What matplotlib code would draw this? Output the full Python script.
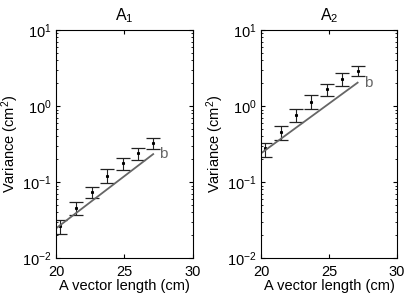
import matplotlib
matplotlib.use("Agg")
import matplotlib.pyplot as plt
import numpy as np

plt.rcParams['font.family'] = ['Liberation Sans', 'DejaVu Sans']
plt.rcParams['mathtext.fontset'] = 'custom'
plt.rcParams['mathtext.rm'] = 'Liberation Sans'
plt.rcParams['mathtext.it'] = 'Liberation Sans:italic'
plt.rcParams['mathtext.bf'] = 'Liberation Sans:bold'

x_vals = [20.3, 21.46, 22.6, 23.7, 24.87, 25.96, 27.1]

a1_mean = [0.0264, 0.045, 0.0745, 0.121, 0.176, 0.239, 0.323]
a1_upper = [0.0316, 0.055, 0.0867, 0.148, 0.205, 0.283, 0.376]
a1_lower = [0.0207, 0.0368, 0.061, 0.096, 0.144, 0.195, 0.272]
a1_fit_x = [20.0, 27.1]
a1_fit_y = [0.0246, 0.233]

a2_mean = [0.277, 0.459, 0.762, 1.14, 1.66, 2.26, 2.91]
a2_upper = [0.329, 0.551, 0.906, 1.40, 1.93, 2.69, 3.36]
a2_lower = [0.211, 0.357, 0.621, 0.906, 1.36, 1.83, 2.48]
a2_fit_x = [20.0, 27.1]
a2_fit_y = [0.239, 2.03]

titles = ['A$_1$', 'A$_2$']
xticks = [20, 25, 30]

fig = plt.figure(figsize=(4.06, 2.97), dpi=100)
positions = [[0.138, 0.131, 0.337, 0.768], [0.643, 0.131, 0.335, 0.768]]
datasets = [(a1_mean, a1_upper, a1_lower, a1_fit_x, a1_fit_y),
            (a2_mean, a2_upper, a2_lower, a2_fit_x, a2_fit_y)]

for pos, title, (m, up, lo, fx, fy) in zip(positions, titles, datasets):
    ax = fig.add_axes(pos)
    m = np.array(m); up = np.array(up); lo = np.array(lo)
    _, caps, _ = ax.errorbar(x_vals, m, yerr=[m - lo, up - m], fmt='none', ecolor='#222222',
                             elinewidth=0.8, capsize=5, capthick=0.9)
    for c in caps:
        c.set_color('#666666')
    ax.plot(x_vals, m, linestyle='none', marker='s', markersize=1.2, color='black')
    ax.plot(fx, fy, color='#666666', linewidth=1.3)
    ax.text(fx[-1] + 0.45, fy[-1], 'b', color='#666666', fontsize=11, va='center', ha='left')
    ax.set_yscale('log')
    ax.set_xlim(20, 30)
    ax.set_ylim(1e-2, 1e1)
    ax.set_xticks(xticks)
    ax.set_xticklabels([str(t) for t in xticks])
    ax.tick_params(which='both', direction='in', top=True, right=True, labelsize=10.5)
    ax.tick_params(which='major', length=3)
    ax.tick_params(axis='y', which='major', pad=3)
    ax.tick_params(axis='x', which='major', pad=5)
    ax.tick_params(which='minor', length=1.5)
    ax.set_title(title, fontsize=11.5, pad=7)
    ax.set_xlabel('A vector length (cm)', fontsize=10.5, labelpad=0)
    ax.set_ylabel('Variance (cm$^2$)', fontsize=10.5, labelpad=1)
    for s in ax.spines.values():
        s.set_linewidth(0.8)

fig.savefig('out.png', dpi=100)
